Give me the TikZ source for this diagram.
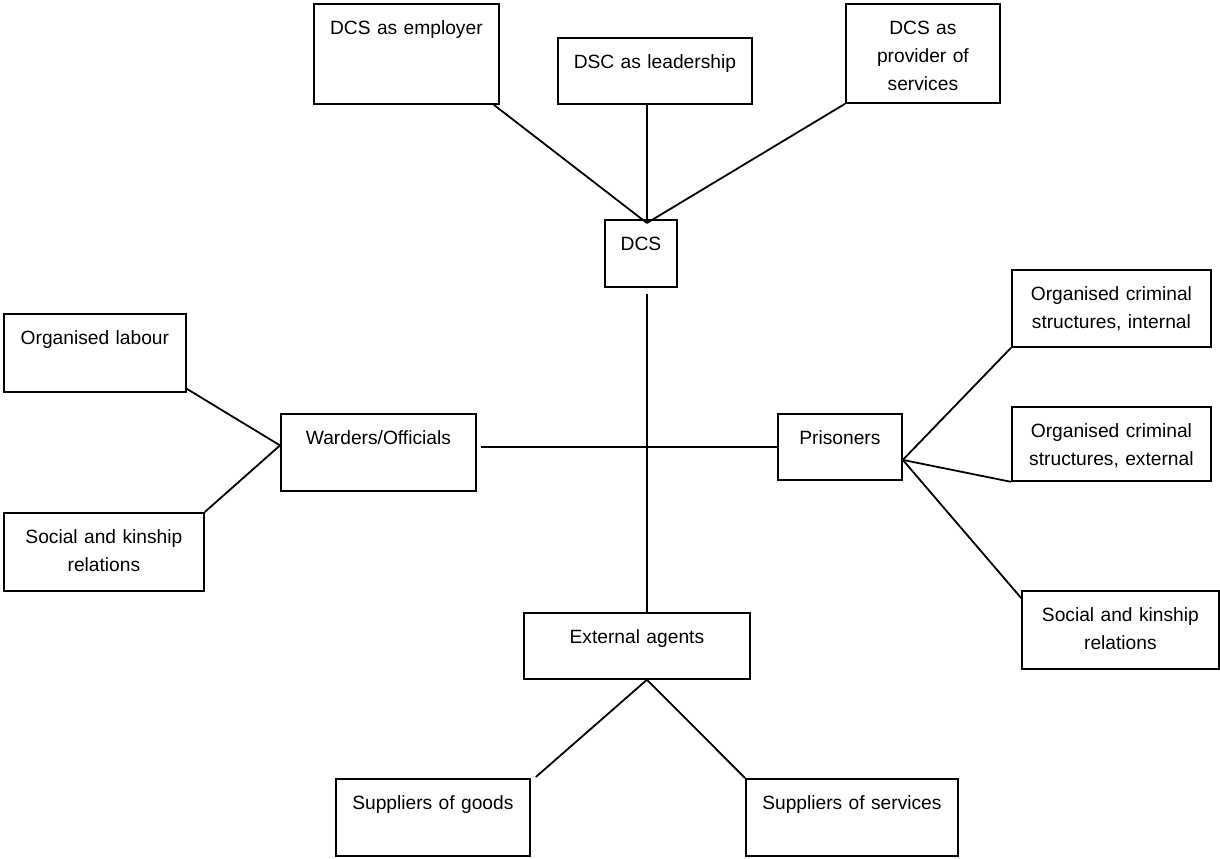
\documentclass[tikz,border=0pt]{standalone}
\usepackage{fontspec}
\setmainfont{Liberation Sans}
\usetikzlibrary{positioning,calc}
\tikzset{
	bloc/.style={draw, line width=0.9pt, inner sep=0pt, align=center, text height=15.5pt, font=\fontsize{9.6pt}{14pt}\selectfont, anchor=north west},
	lien/.style={line width=0.9pt}
}

\begin{document}
\begin{tikzpicture}[x=0.5pt,y=-0.5pt]
	
	\useasboundingbox (0,0) rectangle (1220,858);
	
	%Boites du haut
	\node[bloc,text width=92.5pt,text depth=34.5pt] (employer) at (313,3) {DCS as employer};
	\node[bloc,text width=97pt,text depth=17.5pt] (leader) at (557,37) {DSC as leadership};
	\node[bloc,text width=77pt,text depth=34pt] (provider) at (845,3) {DCS as\\provider of\\services};
	\node[bloc,text width=36pt,text depth=18pt] (dcs) at (604,219) {DCS};
	
	%Gauche
	\node[bloc,text width=91pt,text depth=23.5pt] (labour) at (3,313) {Organised labour};
	\node[bloc,text width=97.5pt,text depth=23pt] (warders) at (280,413) {Warders/Officials};
	\node[bloc,text width=100pt,text depth=23.5pt] (kinL) at (3,512) {Social and kinship\\relations};
	
	%Droite
	\node[bloc,text width=62pt,text depth=17.5pt] (prisoners) at (777,413) {Prisoners};
	\node[bloc,text width=99.5pt,text depth=23pt] (internal) at (1011,269) {Organised criminal\\structures, internal};
	\node[bloc,text width=99.5pt,text depth=21.5pt] (external) at (1011,406) {Organised criminal\\structures, external};
	\node[bloc,text width=98.5pt,text depth=23.5pt] (kinR) at (1021,590) {Social and kinship\\relations};
	
	%Bas
	\node[bloc,text width=113pt,text depth=17.5pt] (agents) at (523,612) {External agents};
	\node[bloc,text width=97pt,text depth=23pt] (goods) at (335,778) {Suppliers of goods};
	\node[bloc,text width=106pt,text depth=23pt] (services) at (745,778) {Suppliers of services};
	
	%Points de jonction
	\coordinate (sommet) at ($(dcs.north)+(6,4)$);
	\coordinate (gauche) at ($(warders.west)+(0,-7)$);
	\coordinate (droite) at ($(prisoners.east)+(0,13)$);
	\coordinate (bas) at (agents.south -| sommet);
	
	%Liens
	\draw[lien] ($(employer.south east)+(-6,0)$) -- (sommet);
	\draw[lien] (leader.south -| sommet) -- (sommet);
	\draw[lien] (provider.south west) -- (sommet);
	\draw[lien] ($(dcs.south -| sommet)+(0,6)$) -- (agents.north -| sommet);
	\draw[lien] ($(warders.east |- prisoners.west)+(4,0)$) -- (prisoners.west);
	\draw[lien] ($(labour.south east)+(0,-4)$) -- (gauche);
	\draw[lien] (kinL.north east) -- (gauche);
	\draw[lien] (droite) -- (internal.south west);
	\draw[lien] (droite) -- (external.south west);
	\draw[lien] (droite) -- ($(kinR.north west)+(1,9)$);
	\draw[lien] (bas) -- ($(goods.north east)+(5,-1)$);
	\draw[lien] (bas) -- (services.north west);
	
\end{tikzpicture}
\end{document}
